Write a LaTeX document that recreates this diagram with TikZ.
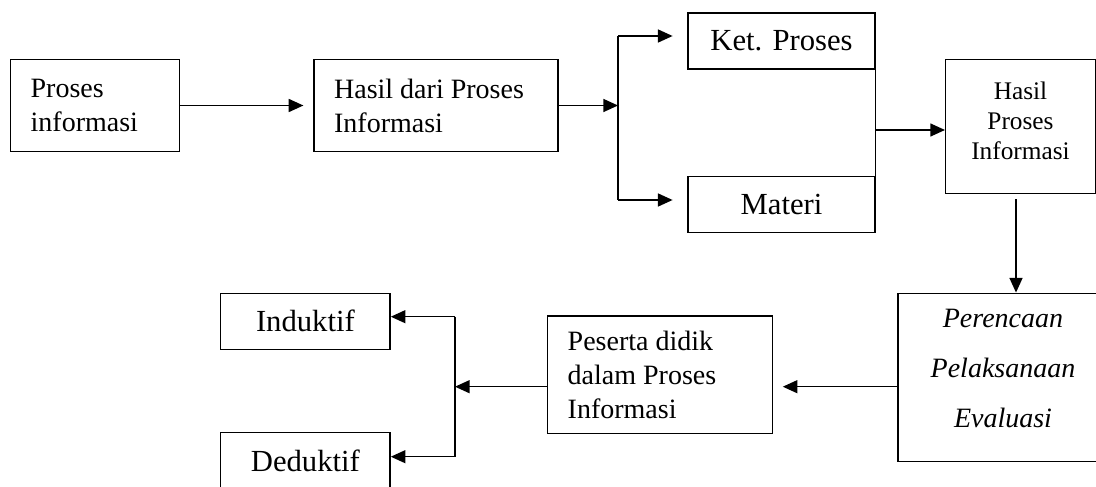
\documentclass[tikz,border=0pt]{standalone}
\usepackage{fontspec}
\setmainfont{Liberation Serif}
\usetikzlibrary{arrows.meta}

\begin{document}
\begin{tikzpicture}[x=0.75pt,y=0.75pt,
      box/.style={draw,line width=1.1pt,inner sep=0pt},
      leftbox/.style={box,align=flush left,inner xsep=15pt,text width=#1,
        font=\fontsize{21pt}{25.5pt}\selectfont},
      namebox/.style={box,minimum width=#1,minimum height=42pt,
        font=\fontsize{23pt}{27pt}\selectfont},
      arr/.style={line width=1.1pt,-{Triangle[length=11pt,width=9.75pt]}},
      line/.style={line width=1.1pt}]

      \useasboundingbox (0,0) rectangle (1096,486);

      \node[leftbox=96.5pt,minimum height=69pt] (proses) at (95,380.5) {Proses\\informasi};
      \node[leftbox=152.8pt,minimum height=69pt] (hasildari) at (436,380.5) {Hasil dari Proses\\Informasi};
      \node[namebox=140.25pt] (ket) at (781.5,445) {Ket. Proses};
      \node[namebox=140.25pt] (materi) at (781.5,281.5) {Materi};
      \node[box,align=center,minimum width=112.2pt,minimum height=100.5pt,
        font=\fontsize{19pt}{22.5pt}\selectfont] (hasil) at (1020.5,359.7)
        {Hasil\\Proses\\Informasi\\[-13.5pt]~};
      \node[box,align=center,minimum width=157.5pt,minimum height=126.3pt,
        font=\fontsize{21pt}{37.5pt}\selectfont\itshape] (rencana) at (1003,108.5)
        {Perencaan\\Pelaksanaan\\Evaluasi\\[-24pt]~};
      \node[leftbox=138.75pt,minimum height=88pt] (peserta) at (660.2,111.3)
        {Peserta didik\\dalam Proses\\Informasi};
      \node[namebox=127pt] (induktif) at (305.4,164.7) {Induktif};
      \node[namebox=127pt] (deduktif) at (305.4,25.3) {Deduktif};

      \coordinate (fork1) at (618,380.5);
      \coordinate (ktop) at (618,450);
      \coordinate (kbot) at (618,286);
      \coordinate (join) at (875,356);
      \coordinate (down) at (1016,286.7);
      \coordinate (fork2) at (455,99.3);
      \coordinate (itop) at (455,169.3);
      \coordinate (ibot) at (455,29.3);

      \draw[arr,shorten >=7.5pt] (proses) -- (hasildari);
      \draw[arr] (hasildari) -- (fork1);
      \draw[line] (ktop) -- (kbot);
      \draw[arr,shorten >=11pt] (ktop) -- (ktop -| ket.west);
      \draw[arr,shorten >=11pt] (kbot) -- (kbot -| materi.west);
      \draw[line] (ket.east) -- (materi.east);
      \draw[arr] (join) -- (join -| hasil.west);
      \draw[arr] (down) -- (down |- rencana.north);
      \draw[arr,shorten >=7pt] (fork2 -| rencana.west) -- (fork2 -| peserta.east);
      \draw[arr] (fork2 -| peserta.west) -- (fork2);
      \draw[line] (itop) -- (ibot);
      \draw[arr] (itop) -- (itop -| induktif.east);
      \draw[arr] (ibot) -- (ibot -| deduktif.east);

    \end{tikzpicture}
\end{document}
